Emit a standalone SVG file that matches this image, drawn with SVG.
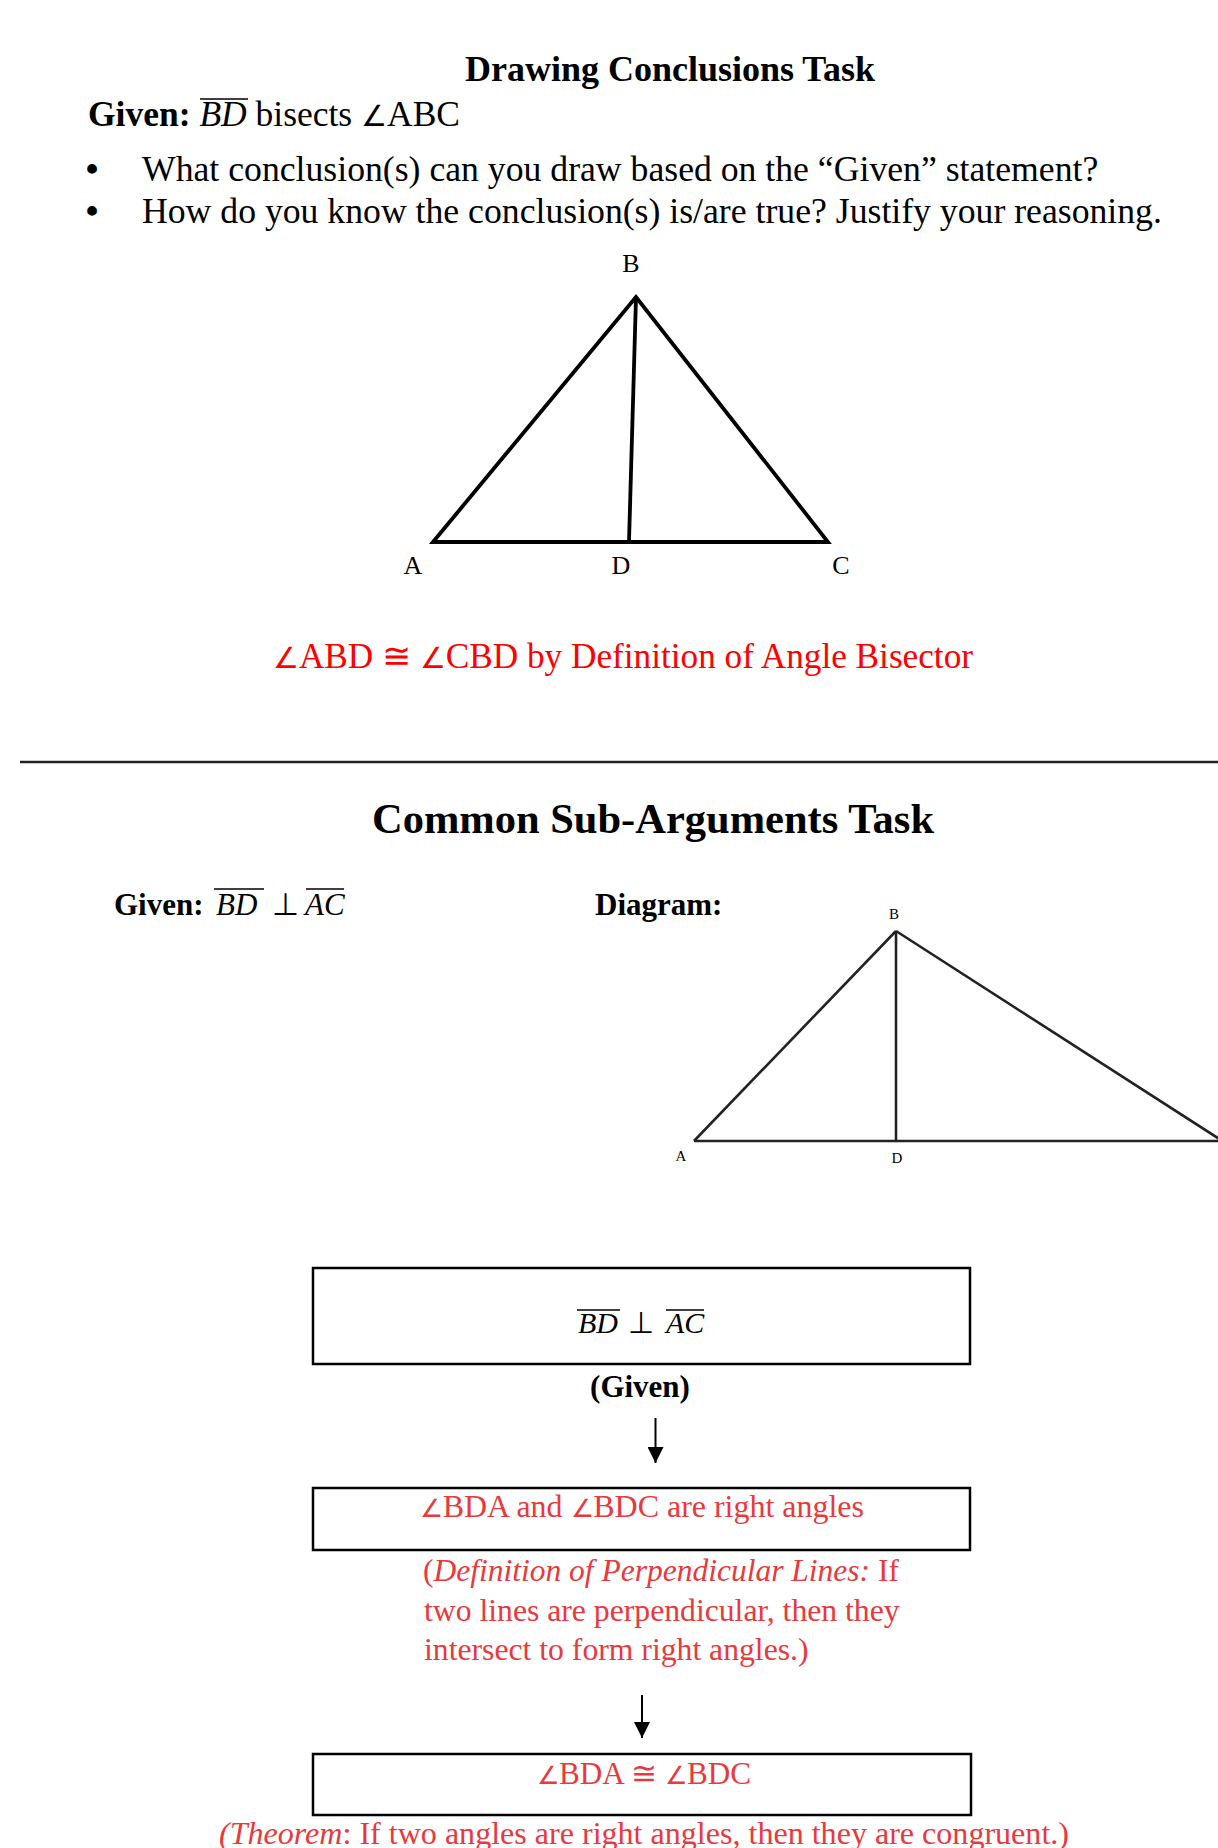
<svg xmlns="http://www.w3.org/2000/svg" width="1218" height="1848" viewBox="0 0 1218 1848">
<style>
text{font-family:"Liberation Serif","Times New Roman",serif;fill:#000}
.b{font-weight:bold}
.i{font-style:italic}
.ang{font-size:82%}
.red{fill:#FF0000}
.red2{fill:#E8393C}
.box{fill:none;stroke:#000;stroke-width:2.5}
.ol{stroke:#000;stroke-width:1.6}
.tri1{fill:none;stroke:#000;stroke-width:3.8;stroke-linejoin:miter}
.tri2{fill:none;stroke:#222;stroke-width:2.6}
.conn{stroke:#000;stroke-width:2;fill:none}
</style>
<defs>
<marker id="ah" markerUnits="userSpaceOnUse" markerWidth="16" markerHeight="16" viewBox="0 0 16 16" refX="16" refY="8" orient="auto">
<path d="M0,0 L16,8 L0,16 z" fill="#000"/>
</marker>
</defs>
<rect width="1218" height="1848" fill="#fff"/>

<g id="section1">
<text class="b" x="670" y="81" font-size="36" text-anchor="middle">Drawing Conclusions Task</text>
<text x="88" y="126" font-size="35.5" textLength="372" lengthAdjust="spacingAndGlyphs"><tspan class="b">Given: </tspan><tspan class="i">BD</tspan> bisects <tspan class="ang">∠</tspan>ABC</text>
<line class="ol" x1="200" y1="99" x2="248" y2="99"/>
<text class="b" x="92" y="181" font-size="36" text-anchor="middle">•</text>
<text x="142" y="181" font-size="35.7">What conclusion(s) can you draw based on the “Given” statement?</text>
<text class="b" x="92" y="223" font-size="36" text-anchor="middle">•</text>
<text x="142" y="223" font-size="35.7">How do you know the conclusion(s) is/are true? Justify your reasoning.</text>
</g>

<g id="triangle1">
<polygon class="tri1" points="433,542 636,297 828,542"/>
<line class="tri1" x1="636" y1="297" x2="629" y2="542"/>
<text x="631" y="272" font-size="26" text-anchor="middle">B</text>
<text x="413" y="574" font-size="26" text-anchor="middle">A</text>
<text x="621" y="574" font-size="26" text-anchor="middle">D</text>
<text x="841" y="574" font-size="26" text-anchor="middle">C</text>
</g>

<g id="conclusion1">
<text class="red" x="273" y="668" font-size="35.3" textLength="700" lengthAdjust="spacingAndGlyphs"><tspan class="ang">∠</tspan>ABD ≅ <tspan class="ang">∠</tspan>CBD by Definition of Angle Bisector</text>
</g>

<line x1="20" y1="762" x2="1218" y2="762" stroke="#222" stroke-width="2.5"/>

<g id="section2">
<text class="b" x="653" y="833" font-size="42.5" text-anchor="middle">Common Sub-Arguments Task</text>
<text class="b" x="114" y="915" font-size="31">Given:</text>
<text class="i" x="216" y="915" font-size="31">BD</text>
<text x="272" y="915" font-size="31">⊥</text>
<text class="i" x="305" y="915" font-size="31">AC</text>
<line class="ol" x1="214" y1="889" x2="264" y2="889"/>
<line class="ol" x1="306" y1="889" x2="344" y2="889"/>
<text class="b" x="595" y="915" font-size="31">Diagram:</text>
</g>

<g id="triangle2">
<line class="tri2" x1="694" y1="1141" x2="896" y2="931"/>
<line class="tri2" x1="896" y1="931" x2="1224" y2="1142"/>
<line class="tri2" x1="694" y1="1141" x2="1218" y2="1141" stroke-width="3"/>
<line class="tri2" x1="896" y1="931" x2="896" y2="1141" stroke-width="2"/>
<text x="894" y="919" font-size="15" text-anchor="middle">B</text>
<text x="681" y="1161" font-size="15" text-anchor="middle">A</text>
<text x="897" y="1163" font-size="15" text-anchor="middle">D</text>
</g>

<g id="box1">
<rect class="box" x="313" y="1268" width="657" height="96"/>
<text class="i" x="578" y="1333" font-size="30" fill="#111">BD</text>
<text x="628" y="1333" font-size="30" fill="#111">⊥</text>
<text class="i" x="666" y="1333" font-size="30" fill="#111">AC</text>
<line class="ol" x1="577" y1="1310" x2="620" y2="1310"/>
<line class="ol" x1="666" y1="1310" x2="704" y2="1310"/>
</g>
<g id="reason1">
<text class="b" x="640" y="1397" font-size="31" text-anchor="middle">(Given)</text>
</g>

<g id="box2">
<rect class="box" x="313" y="1488" width="657" height="62"/>
<text class="red2" x="420" y="1517" font-size="31" textLength="444" lengthAdjust="spacingAndGlyphs"><tspan class="ang">∠</tspan>BDA and <tspan class="ang">∠</tspan>BDC are right angles</text>
</g>
<g id="reason2">
<text class="red2" x="423" y="1581" font-size="31.5">(<tspan class="i">Definition of Perpendicular Lines:</tspan> If</text>
<text class="red2" x="424" y="1621" font-size="31.7">two lines are perpendicular, then they</text>
<text class="red2" x="424" y="1660" font-size="31.7">intersect to form right angles.)</text>
</g>

<g id="box3">
<rect class="box" x="313" y="1754" width="658" height="61"/>
<text class="red2" x="537" y="1784" font-size="31" textLength="214" lengthAdjust="spacingAndGlyphs"><tspan class="ang">∠</tspan>BDA ≅ <tspan class="ang">∠</tspan>BDC</text>
</g>
<g id="reason3">
<text class="red2" x="219" y="1844" font-size="31.7" textLength="850" lengthAdjust="spacingAndGlyphs"><tspan class="i">(Theorem</tspan>: If two angles are right angles, then they are congruent.)</text>
</g>

<g id="connectors">
<line class="conn" x1="655.5" y1="1418" x2="655.5" y2="1463" marker-end="url(#ah)"/>
<line class="conn" x1="642" y1="1695" x2="642" y2="1738" marker-end="url(#ah)"/>
</g>
</svg>
